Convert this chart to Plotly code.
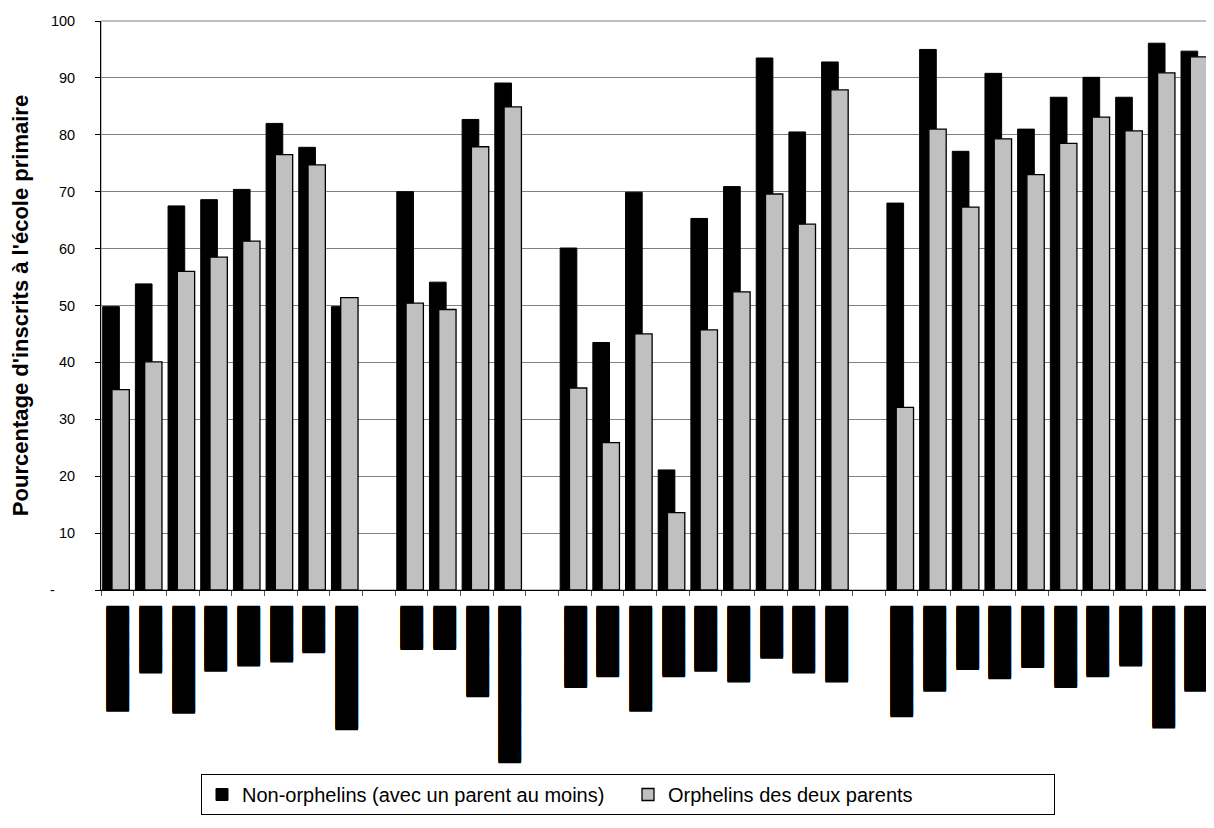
import plotly.graph_objects as go

# ---- data -------------------------------------------------------------
group_sizes = [8, 4, 9, 10]

non_orphans = [49.8, 53.8, 67.5, 68.6, 70.4, 82.0, 77.8, 49.8,
               70.0, 54.1, 82.7, 89.1,
               60.1, 43.5, 69.9, 21.1, 65.3, 70.9, 93.5, 80.5, 92.8,
               68.0, 95.0, 77.1, 90.8, 81.0, 86.6, 90.1, 86.6, 96.1, 94.7]

double_orphans = [35.2, 40.1, 56.0, 58.5, 61.3, 76.5, 74.7, 51.4,
                  50.4, 49.3, 77.9, 84.9,
                  35.5, 25.9, 45.0, 13.6, 45.7, 52.4, 69.6, 64.3, 87.9,
                  32.1, 81.0, 67.3, 79.3, 73.0, 78.5, 83.1, 80.7, 90.9, 93.7]

# the category names are blacked out in the source: length (px) of each black label bar
label_lengths_px = [104, 66, 106, 64, 58, 54, 46, 122,
                    42, 42, 88, 154,
                    80, 68, 104, 68, 64, 74, 50, 66, 74,
                    108, 84, 62, 70, 60, 80, 68, 58, 120, 84]

y_tick_values = [0, 10, 20, 30, 40, 50, 60, 70, 80, 90, 100]
y_tick_labels = ["-\u00a0\u00a0\u00a0\u00a0\u00a0", "10", "20", "30", "40", "50",
                 "60", "70", "80", "90", "100"]

series_names = ["Non-orphelins (avec un parent au moins)", "Orphelins des deux parents"]
y_title = "Pourcentage d'inscrits à l'école primaire"

# ---- redacted labels drawn with block characters ----------------------
BLOCK_FONT = 19
BLOCK_ADV = 0.763 * BLOCK_FONT          # advance of U+2588 in DejaVu Sans
PARTIAL = ["", "\u258F", "\u258E", "\u258D", "\u258C", "\u258B", "\u258A", "\u2589"]


def redacted(length_px):
    eighths = round(length_px / BLOCK_ADV * 8)
    return "\u2588" * (eighths // 8) + PARTIAL[eighths % 8]


# ---- build categories (with empty slots between groups) ---------------
cat_ids, cat_text, nvals, ovals = [], [], [], []
i = 0
for g, n in enumerate(group_sizes):
    if g > 0:
        cat_ids.append(f"gap{g}")
        cat_text.append("")
        nvals.append(None)
        ovals.append(None)
    for _ in range(n):
        cat_ids.append(f"c{i}")
        cat_text.append(redacted(label_lengths_px[i]))
        nvals.append(non_orphans[i])
        ovals.append(double_orphans[i])
        i += 1

fig = go.Figure()
fig.add_trace(go.Bar(
    x=cat_ids, y=nvals, name=series_names[0],
    width=0.51, offset=-0.448,
    marker=dict(color="#000000", line=dict(color="#000000", width=1)),
))
fig.add_trace(go.Bar(
    x=cat_ids, y=ovals, name=series_names[1],
    width=0.53, offset=-0.164,
    marker=dict(color="#C0C0C0", line=dict(color="#000000", width=1.3)),
))

# page body has an 8px margin: figure is 1206x820 so that it lands like the reference
fig.update_layout(
    width=1206, height=820,
    margin=dict(l=93, r=2, t=13, b=238, autoexpand=False),
    paper_bgcolor="white", plot_bgcolor="white",
    barmode="overlay",
    showlegend=True,
    font=dict(family="Liberation Sans, Arial, sans-serif", color="black"),
    legend=dict(
        orientation="h", x=0.090, xanchor="left", y=-0.3234, yanchor="top",
        bordercolor="black", borderwidth=1,
        entrywidth=381, entrywidthmode="pixels",
        font=dict(family="Liberation Sans, Arial, sans-serif", size=20, color="black"),
        itemclick=False,
    ),
    shapes=[dict(type="rect", xref="paper", yref="paper", x0=0, x1=1, y0=0, y1=1,
                 line=dict(color="#808080", width=1), layer="below")],
)

fig.update_xaxes(
    type="category", categoryorder="array", categoryarray=cat_ids,
    tickmode="array", tickvals=cat_ids, ticktext=cat_text,
    tickson="boundaries", ticks="outside", ticklen=5, tickcolor="#555555",
    ticklabelstandoff=12,
    tickangle=90,
    tickfont=dict(family="DejaVu Sans", size=BLOCK_FONT, color="black",
                  shadow="1px 0px 0px #000, -1px 0px 0px #000"),
    showline=True, linecolor="black", linewidth=1, showgrid=False, zeroline=False,
)
fig.update_yaxes(
    range=[0, 100], tickmode="array", tickvals=y_tick_values, ticktext=y_tick_labels,
    ticks="outside", ticklen=5, tickcolor="black", ticklabelstandoff=17,
    tickfont=dict(family="Liberation Sans, Arial, sans-serif", size=14.5, color="black"),
    showline=True, linecolor="black", linewidth=1,
    showgrid=True, gridcolor="#808080", gridwidth=1, zeroline=False,
    title=dict(text=f"<b>{y_title}</b>" + "\u00a0" * 4, standoff=18,
               font=dict(family="Liberation Sans, Arial, sans-serif", size=22, color="black")),
)

fig.write_html("out.html")
